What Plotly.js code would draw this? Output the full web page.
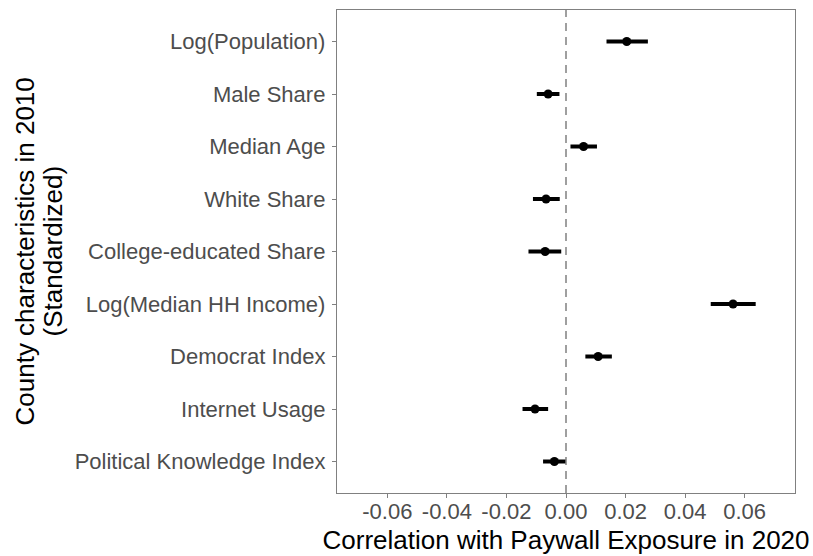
<!DOCTYPE html>
<html>
<head>
<meta charset="utf-8">
<script src="https://cdn.plot.ly/plotly-3.0.1.min.js"></script>
<style>
  html, body { margin: 0; padding: 0; background: #ffffff; }
  #chart { width: 813px; height: 556px; }
</style>
</head>
<body>
<div id="chart"></div>
<script>
// County characteristics, listed top to bottom
const characteristics = [
  "Log(Population)",
  "Male Share",
  "Median Age",
  "White Share",
  "College-educated Share",
  "Log(Median HH Income)",
  "Democrat Index",
  "Internet Usage",
  "Political Knowledge Index"
];
// Point estimates and confidence bounds
const estimate = [0.0204, -0.0060, 0.0059, -0.0067, -0.0070, 0.0561, 0.0108, -0.0104, -0.0039];
const lower    = [0.0136, -0.0098, 0.0015, -0.0111, -0.0126, 0.0486, 0.0065, -0.0146, -0.0077];
const upper    = [0.0275, -0.0022, 0.0104, -0.0021, -0.0016, 0.0637, 0.0154, -0.0060, -0.0002];
// x-axis ticks
const xTickVals = [-0.06, -0.04, -0.02, 0.00, 0.02, 0.04, 0.06];
const xTickText = ["-0.06", "-0.04", "-0.02", "0.00", "0.02", "0.04", "0.06"];
// y-axis title, one entry per line
const yTitleLines = ["County characteristics in 2010", "(Standardized)"];

const plus = upper.map((u, i) => u - estimate[i]);
const minus = estimate.map((e, i) => e - lower[i]);

const frameColor = "#808080";
const font = "Liberation Sans, Arial, sans-serif";

const trace = {
  type: "scatter",
  mode: "markers",
  x: estimate,
  y: characteristics,
  marker: { color: "#000000", size: 9 },
  error_x: {
    type: "data",
    symmetric: false,
    array: plus,
    arrayminus: minus,
    color: "#000000",
    thickness: 4,
    width: 0
  },
  hoverinfo: "x+y",
  showlegend: false
};

// The two title lines are set as rotated annotations so their spacing stays tight
const lineOffsets = [-313, -285];
const yTitleAnnotations = yTitleLines.map((t, i) => ({
  text: t,
  textangle: -90,
  xref: "paper",
  yref: "paper",
  x: 0,
  y: 0.5,
  xshift: lineOffsets[i],
  xanchor: "center",
  yanchor: "middle",
  showarrow: false,
  font: { size: 26, color: "#000000", family: font }
}));

const layout = {
  width: 813,
  height: 556,
  margin: { l: 337, r: 18, t: 10, b: 63 },
  paper_bgcolor: "#ffffff",
  plot_bgcolor: "#ffffff",
  font: { family: font },
  xaxis: {
    range: [-0.0769, 0.0769],
    tickvals: xTickVals,
    ticktext: xTickText,
    tickfont: { size: 22, color: "#4d4d4d", family: font },
    ticks: "outside",
    ticklen: 4,
    tickcolor: frameColor,
    ticklabelstandoff: -6,
    showgrid: false,
    zeroline: false,
    showline: true,
    mirror: true,
    linecolor: frameColor,
    linewidth: 1.2,
    title: {
      text: "Correlation with Paywall Exposure in 2020",
      font: { size: 26, color: "#000000", family: font },
      standoff: 8
    }
  },
  yaxis: {
    type: "category",
    categoryorder: "array",
    categoryarray: characteristics,
    range: [8.6, -0.6],
    tickfont: { size: 22, color: "#4d4d4d", family: font },
    ticks: "outside",
    ticklen: 4,
    tickcolor: frameColor,
    ticklabelstandoff: 2,
    showgrid: false,
    zeroline: false,
    showline: true,
    mirror: true,
    linecolor: frameColor,
    linewidth: 1.2
  },
  annotations: yTitleAnnotations,
  shapes: [{
    type: "line",
    xref: "x",
    yref: "paper",
    x0: 0, x1: 0,
    y0: 0, y1: 1,
    line: { color: "#808080", width: 1.5, dash: "8px,6px" },
    layer: "below"
  }]
};

Plotly.newPlot("chart", [trace], layout, { displayModeBar: false, staticPlot: true });
</script>
</body>
</html>
